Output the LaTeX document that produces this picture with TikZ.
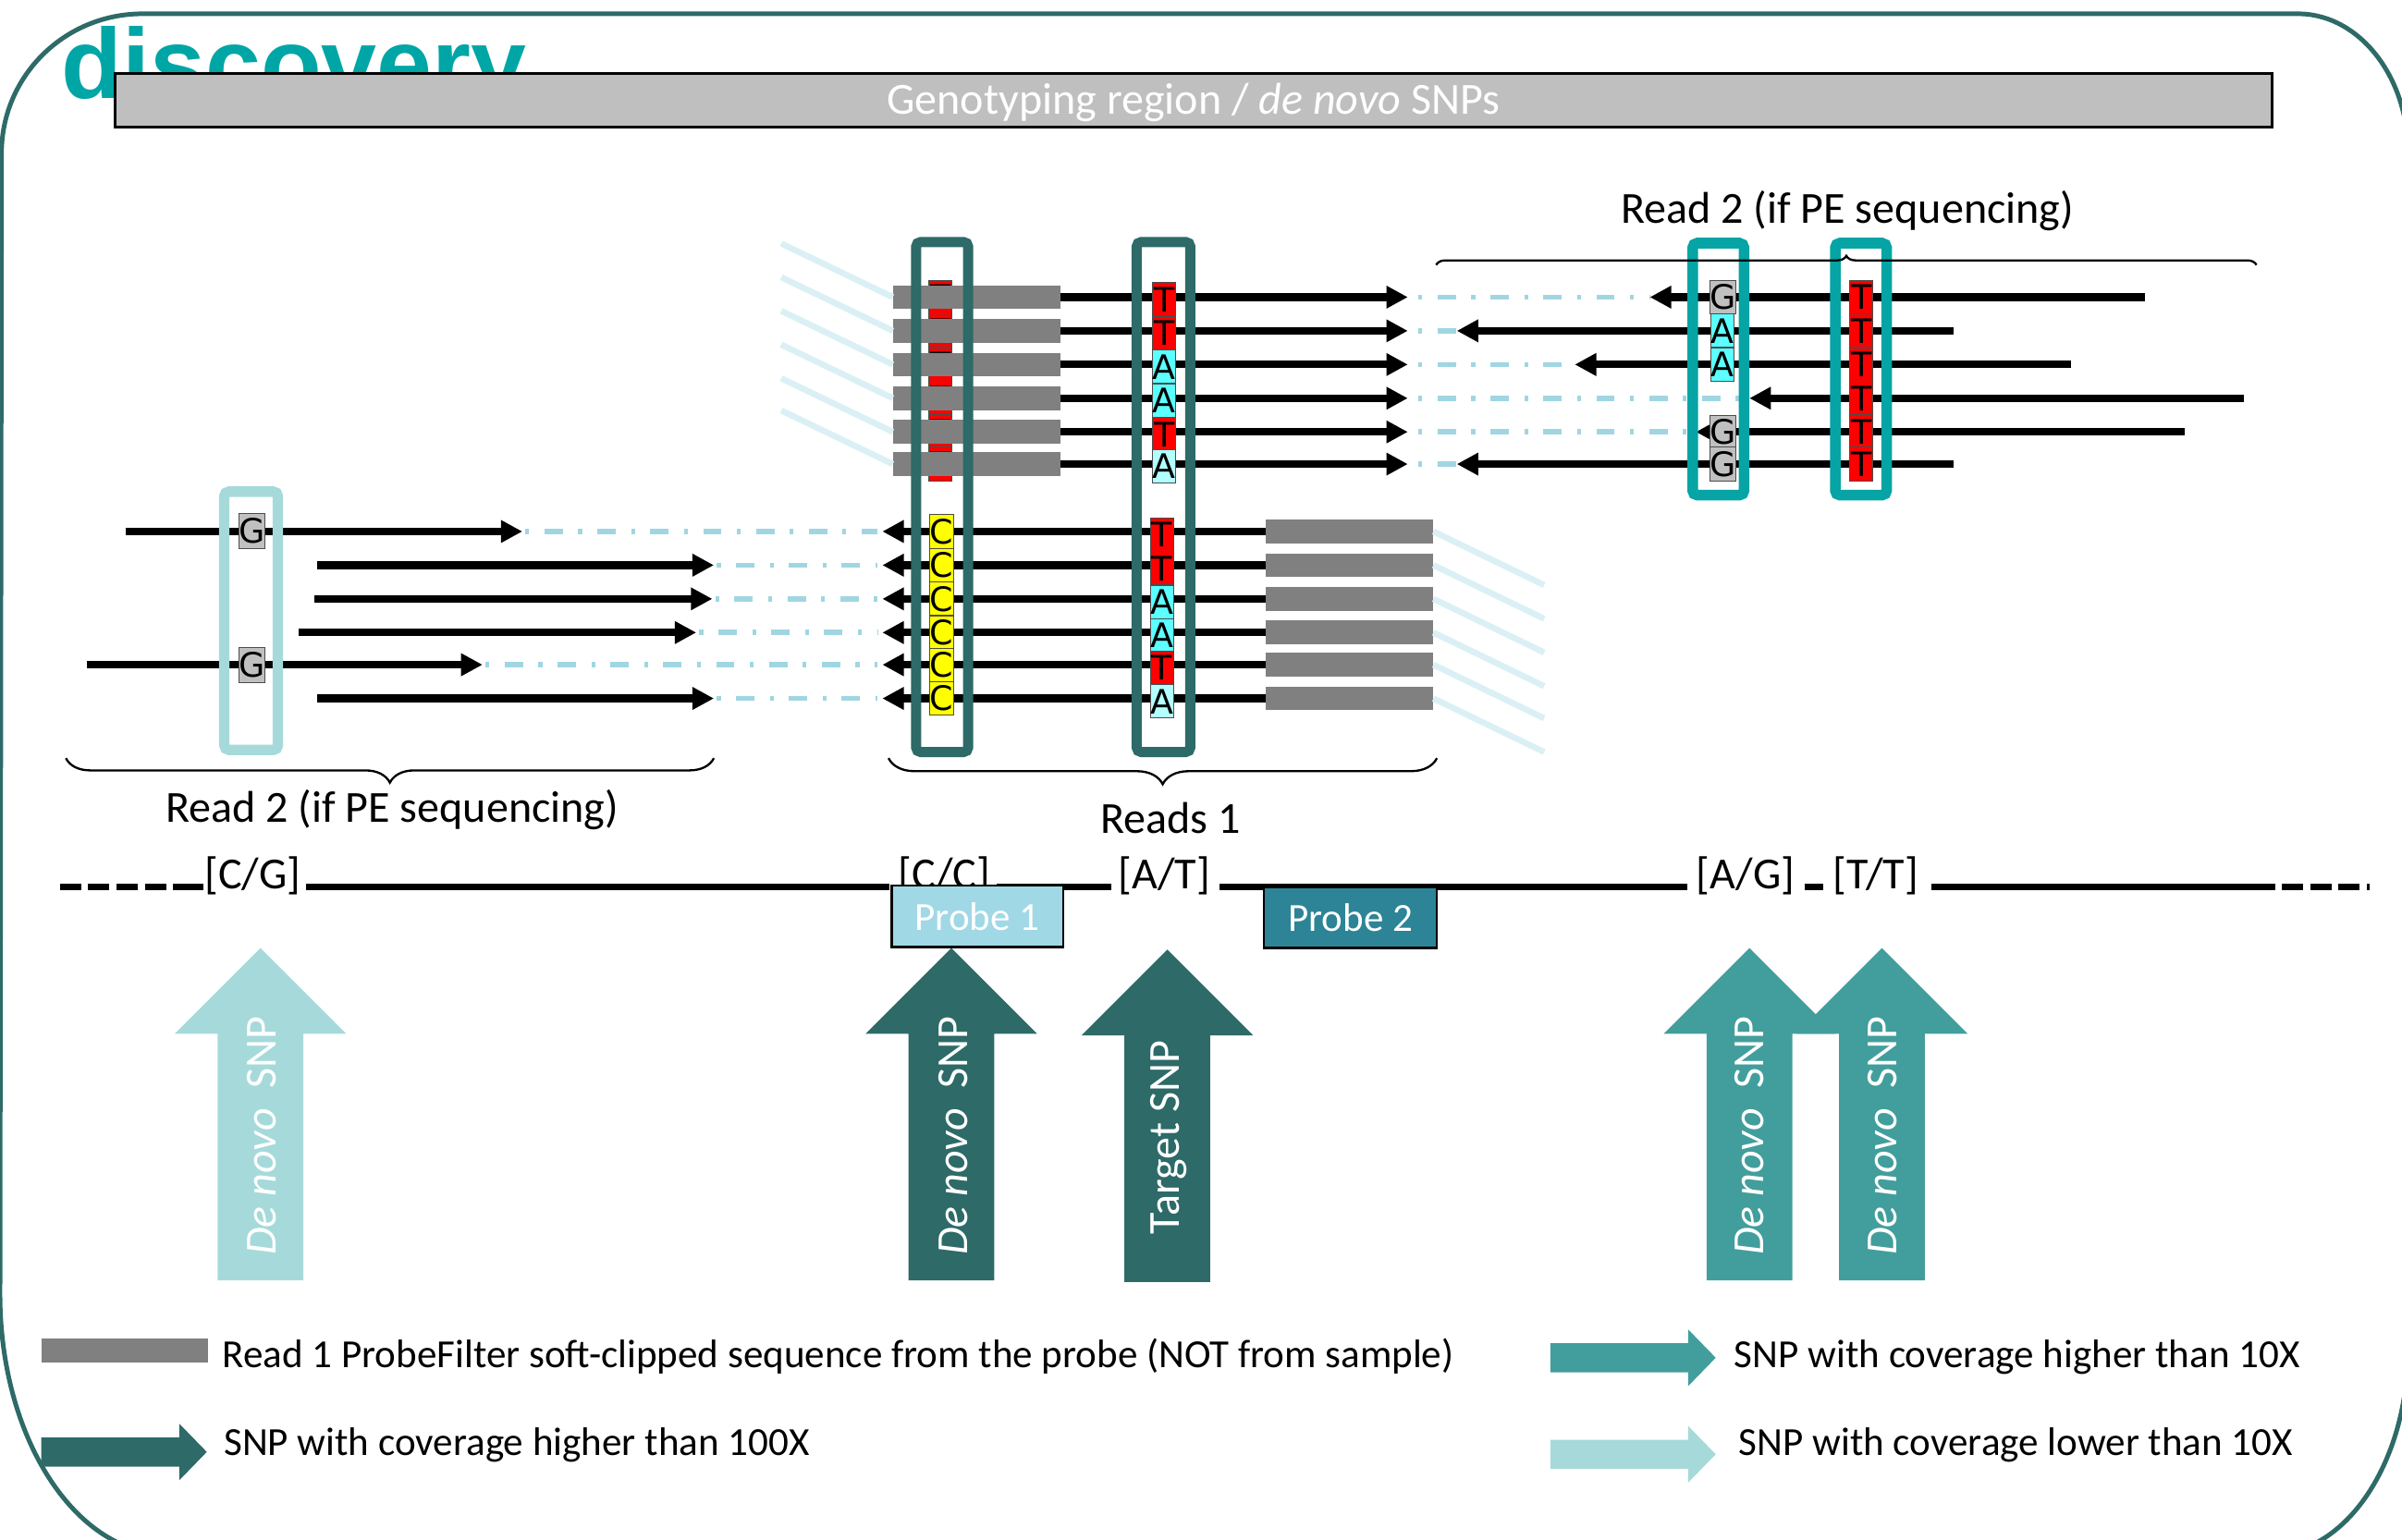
\documentclass[tikz,border=0pt]{standalone}
\usepackage{fontspec}
\setmainfont{Carlito}
\newfontfamily\cellfont{DejaVu Sans}
\newfontfamily\titlefont{Liberation Sans}
\usetikzlibrary{positioning,arrows.meta,decorations.pathreplacing}
\definecolor{darkteal}{HTML}{2D6A68}
\definecolor{midteal}{HTML}{429E9C}
\definecolor{lightteal}{HTML}{A6DADA}
\definecolor{brightteal}{HTML}{06A4A4}
\definecolor{titleteal}{HTML}{00A6A6}
\definecolor{insertblue}{HTML}{A0D6E2}
\definecolor{adapterblue}{HTML}{DAF0F4}
\definecolor{clipgray}{HTML}{808080}
\definecolor{bannergray}{HTML}{BFBFBF}
\definecolor{probeone}{HTML}{A1D8E5}
\definecolor{probetwo}{HTML}{2E8497}
\definecolor{baseT}{HTML}{FF0000}
\definecolor{baseA}{HTML}{5CFFFF}
\definecolor{baseAlt}{HTML}{B3FFFF}
\definecolor{baseC}{HTML}{FFFF00}
\definecolor{baseG}{HTML}{C0C0C0}
\tikzset{
  readarrow/.style={line width=5pt,-{Triangle[length=14pt,width=14pt]}},
  insertline/.style={line width=3.4pt,draw=insertblue,dash pattern=on 2.5pt off 10pt on 12pt off 10pt},
  adapter/.style={line width=4pt,draw=adapterblue},
  clipbar/.style={rectangle,fill=clipgray,minimum width=109pt,minimum height=15.5pt,inner sep=0pt},
  basecell/.style={rectangle,draw=black!70,line width=0.6pt,minimum width=15pt,minimum height=21.8pt,inner sep=0pt,font=\cellfont\fontsize{22}{22}\selectfont},
  snpbox/.style={rectangle,draw=#1,line width=6.6pt,rounded corners=3pt,inner sep=0pt},
  genome/.style={line width=4.4pt},
  genomedash/.style={line width=4.4pt,dash pattern=on 14pt off 4.5pt},
  allele/.style={anchor=base,inner sep=0pt},
  readbrace/.style={decorate,decoration={brace,amplitude=#1},line width=1.4pt},
  probe/.style={rectangle,draw=black,line width=1.5pt,fill=#1,text=white,minimum width=112pt,minimum height=40pt,inner sep=0pt,font=\fontsize{26}{30}\selectfont},
  arrowtext/.style={rotate=90,text=white,inner sep=0pt},
  legendtext/.style={anchor=base west,inner sep=0pt,font=\fontsize{26}{30}\selectfont},
  snparrow/.pic={\path[pic actions] (-28,217) -- (-28,56) -- (-56,56) -- (0,0) -- (56,56) -- (28,56) -- (28,217) -- cycle;},
  legarrow/.pic={\path[pic actions] (0,-9.5) -- (90,-9.5) -- (90,-18.5) -- (108,0) -- (90,18.5) -- (90,9.5) -- (0,9.5) -- cycle;}
}
\begin{document}
\begin{tikzpicture}[x=1pt,y=-1pt,font=\fontsize{29}{34}\selectfont]
\useasboundingbox (0,0) rectangle (1568,1005);
\clip (0,0) rectangle (1568,1005);

\draw[darkteal,line width=3pt] (1,100) .. controls (1,49.7) and (42.2,9) .. (93,9) -- (1500,9)
  .. controls (1539.8,9) and (1572,49.7) .. (1572,100) -- (1572,880)
  .. controls (1572,954.6) and (1531.7,1015) .. (1482,1015) -- (110,1015)
  .. controls (49.2,1015) and (0,938.9) .. (0,845) -- cycle;

\node[anchor=base west,inner sep=0pt,text=titleteal,font=\titlefont\bfseries\fontsize{65}{70}\selectfont] (title) at (40,64) {discovery};
\node[rectangle,draw=black,line width=2pt,fill=bannergray,minimum width=1408pt,minimum height=35pt,inner sep=0pt] (banner) at (779,65.5) {};
\node[anchor=base,inner sep=0pt,text=white] (bannertext) at (779,74.5) {Genotyping region / \textit{de novo} SNPs};

\foreach \y [count=\i] in {194,216,238,260,282,303}
  \node[basecell,fill=baseT] (r\i) at (614,\y) {T};
\foreach \y [count=\i] in {194,216,238,260,282,303}{
  \node[clipbar] (fa\i) at (637.5,\y) {};
  \coordinate (fs\i) at (692,\y);
  \coordinate (ft\i) at (919,\y);
  \draw[adapter] (510,\y-35) -- (fa\i.west);
  \draw[readarrow] (fs\i) -- (ft\i);
}
\foreach \y/\b/\c [count=\i] in {194/T/baseT,216/T/baseT,238/A/baseA,260/A/baseA,282/T/baseT,303/A/baseAlt}
  \node[basecell,fill=\c] (ta\i) at (760,\y+1.5) {\b};

\foreach \y/\b/\c [count=\i] in {347/T/baseT,369/T/baseT,391/A/baseA,413/A/baseA,434/T/baseT,456/A/baseAlt}{
  \node[clipbar] (ra\i) at (881,\y) {};
  \coordinate (rs\i) at (826,\y);
  \coordinate (rt\i) at (576,\y);
  \draw[adapter] (ra\i.east) -- (1008,\y+35);
  \draw[readarrow] (rs\i) -- (rt\i);
  \node[basecell,fill=baseC] (c\i) at (614.7,\y) {C};
  \node[basecell,fill=\c] (tb\i) at (758.5,\y+2) {\b};
}
\node[snpbox=darkteal,minimum width=34pt,minimum height=333pt] (boxC1) at (615,324.5) {};
\node[snpbox=darkteal,minimum width=35pt,minimum height=333pt] (boxC2) at (759.5,324.5) {};

\foreach \y/\s/\t [count=\i] in {194/1400/1077,216/1275/951,238/1352/1028,260/1465/1142,282/1426/1107,303/1275/951}{
  \coordinate (qs\i) at (\s,\y);
  \coordinate (qt\i) at (\t,\y);
  \draw[insertline,shorten <=7pt] (ft\i) -- (qt\i);
  \draw[readarrow] (qs\i) -- (qt\i);
}
\foreach \y/\b/\c [count=\i] in {194/G/baseG,216/A/baseA,238/A/baseA,282/G/baseG,303/G/baseG}
  \node[basecell,fill=\c] (ga\i) at (1124.5,\y) {\b};
\foreach \y [count=\i] in {194,216,238,260,282,303}
  \node[basecell,fill=baseT] (tc\i) at (1215,\y) {T};
\node[snpbox=brightteal,line width=7pt,minimum width=33.5pt,minimum height=164.5pt] (boxR1) at (1121.7,241) {};
\node[snpbox=brightteal,line width=7pt,minimum width=33.5pt,minimum height=164.5pt] (boxR2) at (1214.8,241) {};

\foreach \y/\s/\t [count=\i] in {347/82/341,369/207/466,391/205/465,413/195/454.5,434/57/315,456/207/466}{
  \coordinate (ls\i) at (\s,\y);
  \coordinate (lt\i) at (\t,\y);
  \draw[insertline,shorten <=2pt,shorten >=3pt] (lt\i) -- (rt\i);
  \draw[readarrow] (ls\i) -- (lt\i);
}
\node[basecell,fill=baseG,minimum height=23pt] (gl1) at (164.3,346.7) {G};
\node[basecell,fill=baseG,minimum height=23pt] (gl5) at (164.3,434) {G};
\node[snpbox=lightteal,line width=6.8pt,minimum width=35pt,minimum height=168.6pt] (boxL) at (163.9,405.3) {};

\draw[readbrace=6pt] (937.5,173) -- (1473,173);
\node[anchor=base] (read2right) at (1206,146) {Read 2 (if PE sequencing)};
\draw[readbrace=16pt] (466,495) -- (43,495);
\node[anchor=base] (read2left) at (256,537) {Read 2 (if PE sequencing)};
\draw[readbrace=17pt] (938,495) -- (580,495);
\node[anchor=base] (reads1) at (764,544) {Reads 1};

\coordinate (g0) at (39,579);
\coordinate (g1) at (115,579);
\coordinate (g2) at (133,579);
\coordinate (g3) at (200,579);
\coordinate (g4) at (580.5,579);
\coordinate (g5) at (650.6,579);
\coordinate (g6) at (725.6,579);
\coordinate (g7) at (796,579);
\coordinate (g8) at (1101.7,579);
\coordinate (g9) at (1178,579);
\coordinate (g10) at (1190,579);
\coordinate (g11) at (1261,579);
\coordinate (g12) at (1471,579);
\coordinate (g13) at (1547,579);
\draw[genomedash] (g0) -- (g1);
\draw[genome] (g1) -- (g2);
\draw[genome] (g3) -- (g4);
\draw[genome] (g5) -- (g6);
\draw[genome] (g7) -- (g8);
\draw[genome] (g9) -- (g10);
\draw[genome] (g11) -- (g12);
\draw[genomedash] (g12) -- (g13);
\node[allele] (cg) at (165,580) {[C/G]};
\node[allele] (cc) at (616.5,580) {[C/C]};
\node[allele] (at) at (760,580) {[A/T]};
\node[allele] (ag) at (1139.5,580) {[A/G]};
\node[allele] (tt) at (1224.5,580) {[T/T]};

\node[probe=probeone] (probe1) at (638,598.3) {Probe 1};
\node[probe=probetwo,minimum width=113pt] (probe2) at (881.5,599) {Probe 2};

\pic[fill=lightteal] at (170,619) {snparrow};
\pic[fill=darkteal] at (621,619) {snparrow};
\pic[fill=darkteal] at (762,620) {snparrow};
\pic[fill=midteal] at (1142,619) {snparrow};
\pic[fill=midteal] at (1228.5,619) {snparrow};
\node[arrowtext] (snp1) at (171,741.5) {\textit{De novo}\ \ SNP};
\node[arrowtext] (snp2) at (622,741.5) {\textit{De novo}\ \ SNP};
\node[arrowtext] (target) at (763,742.5) {Target SNP};
\node[arrowtext] (snp4) at (1142,741.5) {\textit{De novo}\ \ SNP};
\node[arrowtext] (snp5) at (1229,741.5) {\textit{De novo}\ \ SNP};

\node[rectangle,fill=clipgray,minimum width=109pt,minimum height=15.6pt,inner sep=0pt] (legclip) at (81.5,882) {};
\node[legendtext] (legcliptext) at (145,893) {Read 1 ProbeFilter soft-clipped sequence from the probe (NOT from sample)};
\pic[fill=midteal] at (1012,886.5) {legarrow};
\node[legendtext] (legmid) at (1132,893) {SNP with coverage higher than 10X};
\pic[fill=darkteal] at (27,948) {legarrow};
\node[legendtext] (legdark) at (146,950.5) {SNP with coverage higher than 100X};
\pic[fill=lightteal] at (1012,949.5) {legarrow};
\node[legendtext] (leglight) at (1135,950.5) {SNP with coverage lower than 10X};
\end{tikzpicture}
\end{document}
